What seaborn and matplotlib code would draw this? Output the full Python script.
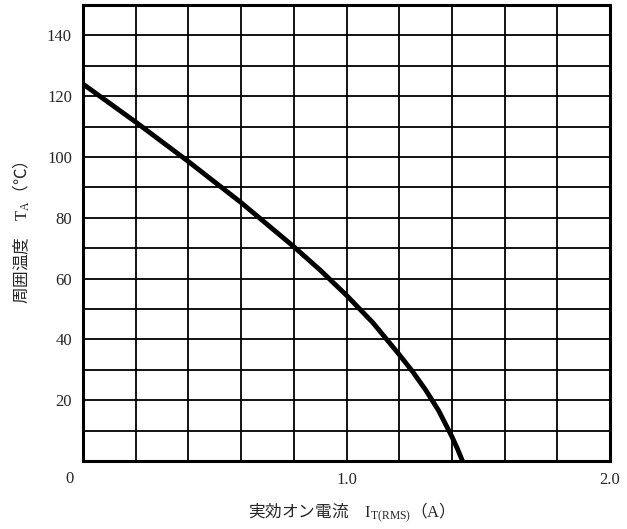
import numpy as np
import pandas as pd
import matplotlib
matplotlib.use("Agg")
import matplotlib.pyplot as plt
import seaborn as sns

# curve
current = [0.0, 0.2, 0.4, 0.6, 0.8, 0.9, 1.0, 1.1, 1.2, 1.25, 1.3, 1.35, 1.4, 1.42, 1.44]
temp = [124.0, 111.5, 98.5, 85.0, 70.5, 62.8, 54.5, 45.5, 35.0, 29.5, 23.4, 16.5, 8.0, 4.2, 0.0]

x_grid = [0.0, 0.2, 0.4, 0.6, 0.8, 1.0, 1.2, 1.4, 1.6, 1.8, 2.0]
x_labels = ["", "", "", "", "", "1.0", "", "", "", "", "2.0"]
y_grid = [0, 10, 20, 30, 40, 50, 60, 70, 80, 90, 100, 110, 120, 130, 140, 150]
y_labels = ["", "", "20", "", "40", "", "60", "", "80", "", "100", "", "120", "", "140", ""]

df = pd.DataFrame({"I": current, "T": temp})

sns.set_style("white")
plt.rcParams['font.family'] = ['Liberation Serif', 'Noto Sans CJK JP', 'DejaVu Sans']
plt.rcParams['mathtext.fontset'] = 'custom'
plt.rcParams['mathtext.rm'] = 'Liberation Serif'
plt.rcParams['mathtext.tt'] = 'Liberation Serif'

fig = plt.figure(figsize=(6.27, 5.29), dpi=100)
ax = fig.add_axes([0.1324, 0.1285, 0.973 - 0.1324, 0.9905 - 0.1285])

sns.lineplot(data=df, x="I", y="T", ax=ax, color="black", linewidth=3.5, sort=False)

ax.set_xlim(0, 2.0)
ax.set_ylim(0, 150)
ax.set_xticks(x_grid)
ax.set_xticklabels(x_labels, fontsize=12)
ax.set_yticks(y_grid)
ax.set_yticklabels(y_labels, fontsize=12)
ax.tick_params(length=0, pad=8)
ax.grid(True, color="black", linewidth=1.3)
for s in ax.spines.values():
    s.set_color("black")
    s.set_linewidth(2.2)

ax.annotate("0", xy=(0, 0), xycoords="data", xytext=(-10, -13),
            textcoords="offset points", ha="center", va="center", fontsize=12)

cjk = ['Noto Sans CJK JP']
ax.set_xlabel("実効オン電流　$\\mathtt{I_{T(RMS)}}$（$\\mathtt{A}$）", fontsize=12, labelpad=9, family=cjk)
ax.set_ylabel("周囲温度　$\\mathtt{T_A}$（℃）", fontsize=12, labelpad=11, family=cjk)

fig.savefig("out.png", dpi=100)
